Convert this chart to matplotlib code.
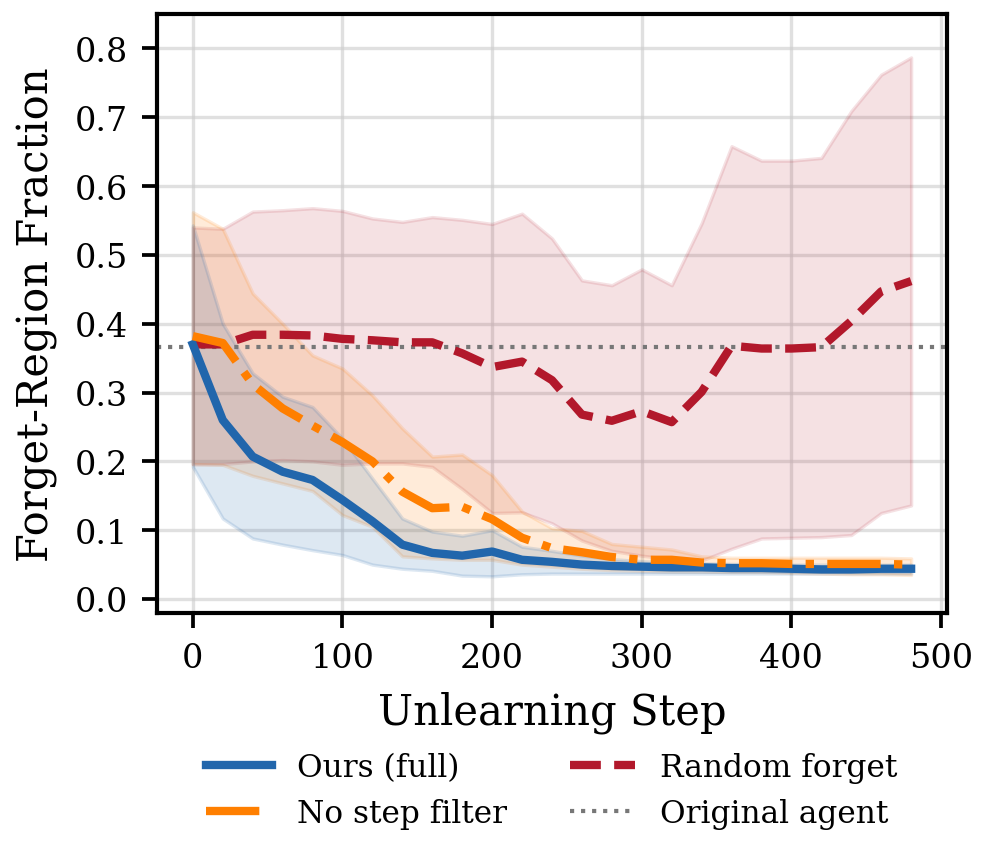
import numpy as np
import matplotlib
matplotlib.use("Agg")
import matplotlib.pyplot as plt

plt.rcParams['font.family'] = ['DejaVu Serif']

# unlearning steps
steps = np.arange(0, 500, 20)

# Ours (full)
ours_mean = [0.370, 0.260, 0.207, 0.185, 0.173, 0.144, 0.113, 0.079, 0.067, 0.063,
             0.069, 0.057, 0.054, 0.050, 0.048, 0.047, 0.046, 0.046, 0.045, 0.045,
             0.044, 0.043, 0.043, 0.044, 0.044]
ours_lo = [0.192, 0.117, 0.088, 0.079, 0.071, 0.064, 0.050, 0.044, 0.041, 0.034,
           0.033, 0.036, 0.037, 0.037, 0.037, 0.037, 0.037, 0.037, 0.037, 0.037,
           0.037, 0.037, 0.037, 0.037, 0.037]
ours_hi = [0.543, 0.400, 0.328, 0.294, 0.279, 0.233, 0.175, 0.117, 0.098, 0.092,
           0.100, 0.076, 0.070, 0.063, 0.058, 0.055, 0.053, 0.052, 0.051, 0.051,
           0.050, 0.050, 0.050, 0.050, 0.050]

# No step filter
nofilt_mean = [0.382, 0.372, 0.312, 0.277, 0.252, 0.228, 0.200, 0.156, 0.132, 0.134,
               0.116, 0.089, 0.074, 0.068, 0.061, 0.057, 0.057, 0.053, 0.052, 0.052,
               0.051, 0.051, 0.051, 0.051, 0.050]
nofilt_lo = [0.196, 0.195, 0.179, 0.168, 0.157, 0.122, 0.105, 0.062, 0.059, 0.057,
             0.057, 0.050, 0.047, 0.044, 0.042, 0.041, 0.040, 0.040, 0.039, 0.039,
             0.038, 0.037, 0.036, 0.036, 0.035]
nofilt_hi = [0.562, 0.538, 0.444, 0.400, 0.354, 0.335, 0.296, 0.248, 0.207, 0.210,
             0.180, 0.127, 0.103, 0.099, 0.080, 0.076, 0.072, 0.062, 0.060, 0.060,
             0.060, 0.060, 0.060, 0.060, 0.059]

# Random forget
rand_mean = [0.370, 0.370, 0.384, 0.384, 0.383, 0.378, 0.376, 0.373, 0.373, 0.357,
             0.337, 0.345, 0.318, 0.268, 0.259, 0.273, 0.257, 0.301, 0.368, 0.364,
             0.364, 0.366, 0.404, 0.447, 0.462]
rand_lo = [0.196, 0.196, 0.200, 0.202, 0.200, 0.195, 0.197, 0.197, 0.192, 0.160,
           0.125, 0.126, 0.110, 0.085, 0.070, 0.063, 0.058, 0.056, 0.073, 0.088,
           0.089, 0.090, 0.093, 0.125, 0.136]
rand_hi = [0.540, 0.538, 0.563, 0.565, 0.568, 0.564, 0.553, 0.548, 0.555, 0.551,
           0.545, 0.560, 0.524, 0.463, 0.456, 0.479, 0.456, 0.546, 0.658, 0.637,
           0.637, 0.641, 0.709, 0.762, 0.787]

original_agent = 0.366

c_ours = '#2166ac'
c_nofilt = '#ff7f00'
c_rand = '#b2182b'
c_orig = '#777777'

fig = plt.figure(figsize=(3.29, 2.853), dpi=300)
ax = fig.add_axes([0.159, 0.283, 0.8005, 0.6995])

ax.fill_between(steps, rand_lo, rand_hi, color=c_rand, alpha=0.13, lw=0.8, zorder=1)
ax.fill_between(steps, nofilt_lo, nofilt_hi, color=c_nofilt, alpha=0.15, lw=0.8, zorder=1)
ax.fill_between(steps, ours_lo, ours_hi, color=c_ours, alpha=0.15, lw=0.8, zorder=1)

l3, = ax.plot(steps, rand_mean, color=c_rand, lw=2, ls='--', zorder=3, label='Random forget')
l1, = ax.plot(steps, ours_mean, color=c_ours, lw=2, zorder=4, label='Ours (full)')
l2, = ax.plot(steps, nofilt_mean, color=c_nofilt, lw=2, ls='-.', zorder=5, label='No step filter')
l4 = ax.axhline(original_agent, color=c_orig, lw=1.0, ls=':', zorder=2, label='Original agent')

ax.set_xlim(-24, 504)
ax.set_ylim(-0.02, 0.85)
ax.set_xticks([0, 100, 200, 300, 400, 500])
ax.set_yticks(np.arange(0, 0.81, 0.1))
ax.yaxis.set_major_formatter(plt.FuncFormatter(lambda v, p: f"{v:.1f}"))
ax.grid(True, color='#cccccc', alpha=0.6, lw=0.8)
ax.set_axisbelow(True)
for s in ax.spines.values():
    s.set_linewidth(1.0)
ax.tick_params(labelsize=8, width=0.9, length=3.5)

ax.set_xlabel("Unlearning Step", fontsize=10)
ax.set_ylabel("Forget-Region Fraction", fontsize=10)

ax.legend(handles=[l1, l2, l3, l4], loc='upper center', bbox_to_anchor=(0.5, -0.185),
          ncol=2, frameon=False, fontsize=7.5, columnspacing=2.0, handlelength=2.1)

fig.savefig("out.png", dpi=300)
